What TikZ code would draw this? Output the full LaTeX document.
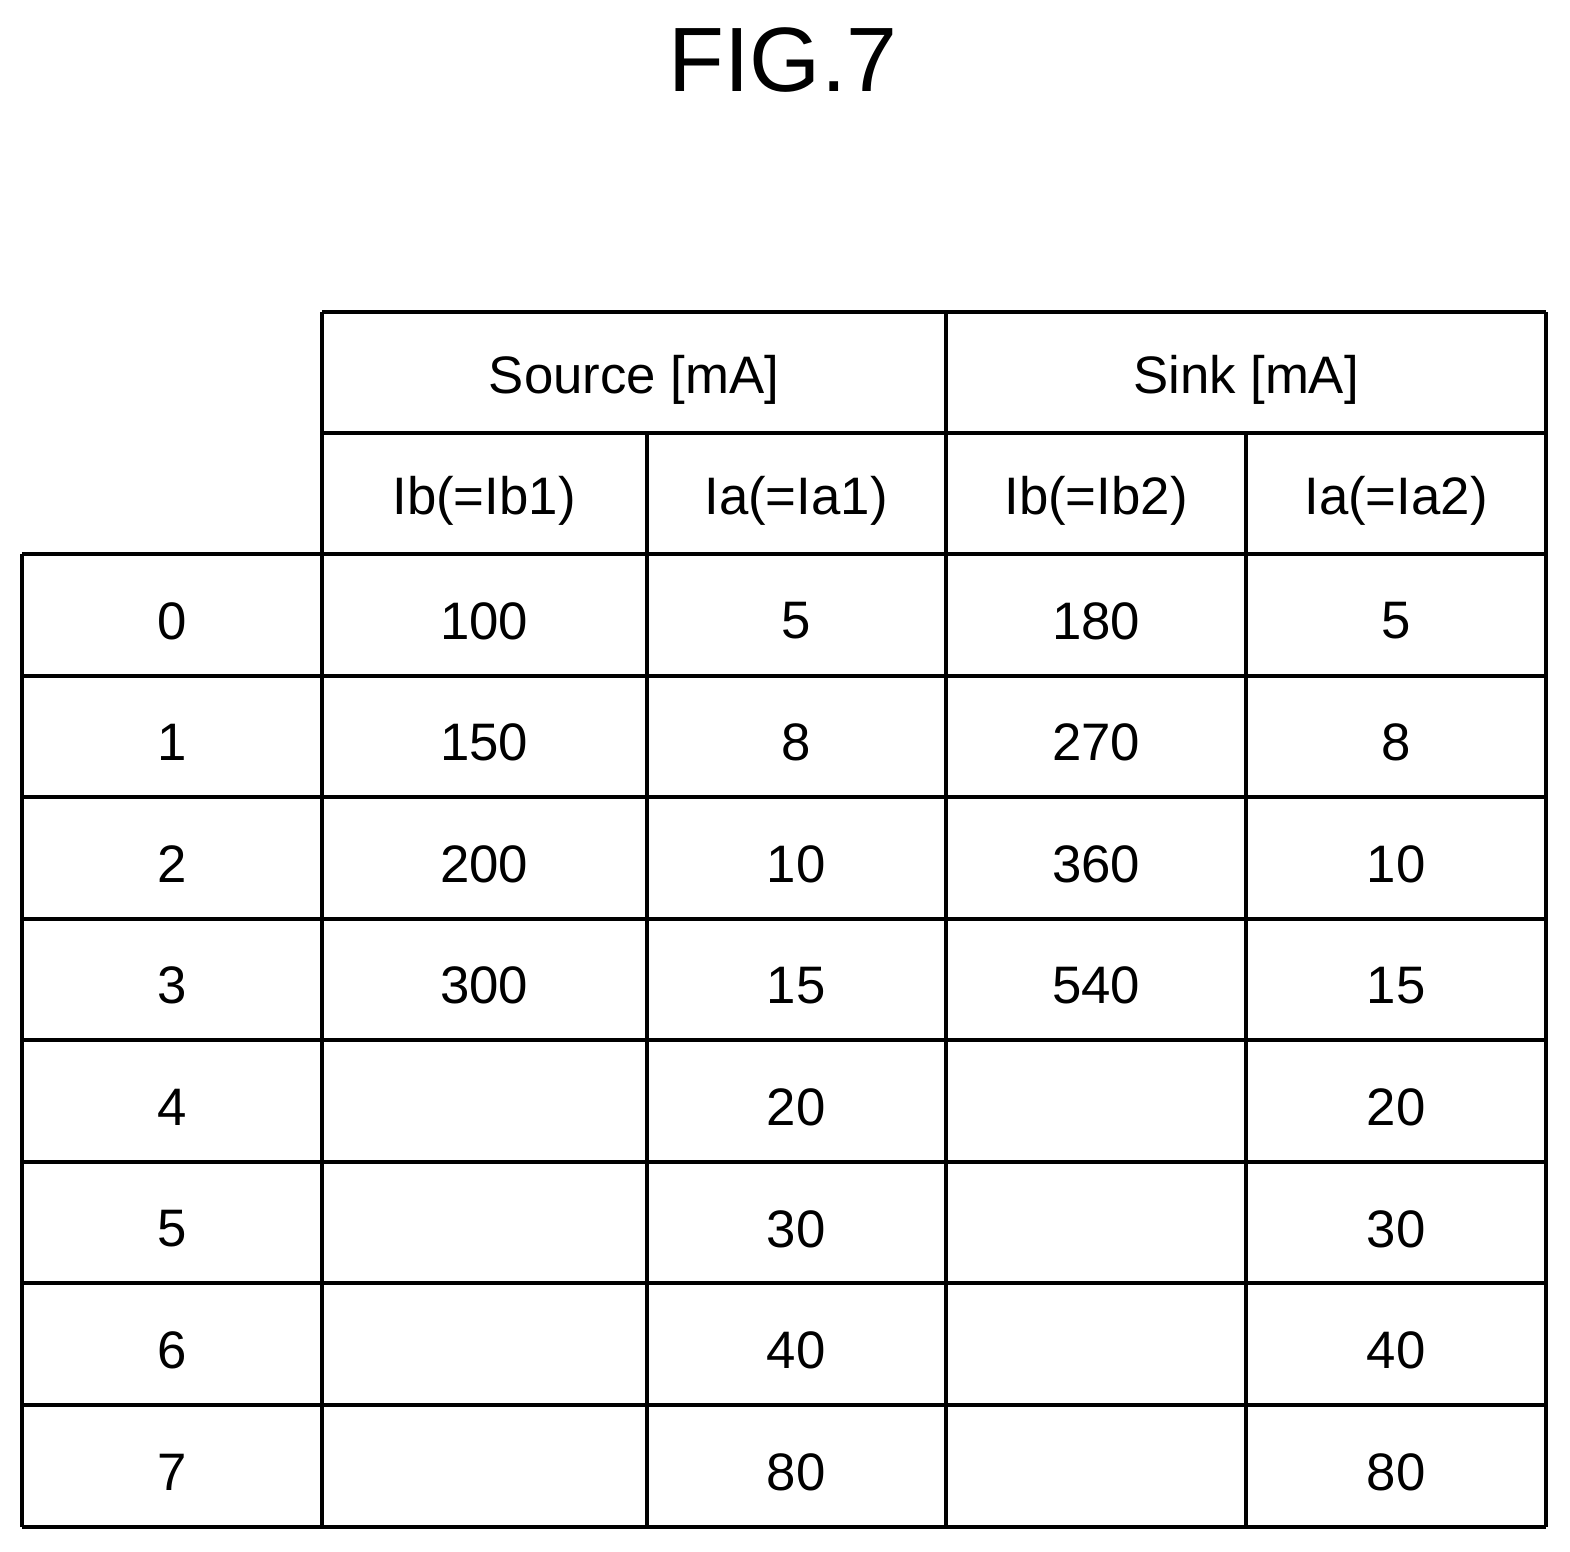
\documentclass[tikz,border=0pt]{standalone}
\usepackage{fontspec}
\setmainfont{Liberation Sans}
\usetikzlibrary{positioning}

\tikzset{
  grid line/.style={line width=0.9pt},
  cell/.style={font=\fontsize{15}{18}\selectfont},
  title/.style={font=\fontsize{26}{30}\selectfont}
}

\begin{document}
\begin{tikzpicture}[x=0.01cm,y=-0.01cm]
\useasboundingbox (0,0) rectangle (1570,1551);

% Title
\node[title] (fig) at (783,60) {FIG.7};

% Horizontal rules
\draw[grid line] (322,312) -- (1546,312);
\draw[grid line] (322,433) -- (1546,433);
\foreach \y in {554,676,797,919,1040,1162,1283,1405,1527} {
    \draw[grid line] (22,\y) -- (1546,\y);
}

% Vertical rules
\draw[grid line] (22,554) -- (22,1527);
\draw[grid line] (322,312) -- (322,1527);
\draw[grid line] (647,433) -- (647,1527);
\draw[grid line] (946,312) -- (946,1527);
\draw[grid line] (1246,433) -- (1246,1527);
\draw[grid line] (1546,312) -- (1546,1527);

% Header
\node[cell] (source) at (634,380) {Source [mA]};
\node[cell] (sink) at (1246,380) {Sink [mA]};
\node[cell] (ib1) at (484,501) {Ib(=Ib1)};
\node[cell] (ia1) at (796,501) {Ia(=Ia1)};
\node[cell] (ib2) at (1096,501) {Ib(=Ib2)};
\node[cell] (ia2) at (1396,501) {Ia(=Ia2)};

% Data rows: index / Ib1 / Ia1 / Ib2 / Ia2
\foreach \i/\bone/\aone/\btwo/\atwo in {0/100/5/180/5, 1/150/8/270/8, 2/200/10/360/10,
    3/300/15/540/15, 4//20//20, 5//30//30, 6//40//40, 7//80//80} {
    \pgfmathsetmacro{\yc}{621+121.6*\i}
    \node[cell] (idx\i) at (172,\yc) {\i};
    \node[cell] (bone\i) at (484,\yc) {\bone};
    \node[cell] (aone\i) at (796,\yc) {\aone};
    \node[cell] (btwo\i) at (1096,\yc) {\btwo};
    \node[cell] (atwo\i) at (1396,\yc) {\atwo};
}

\end{tikzpicture}
\end{document}
